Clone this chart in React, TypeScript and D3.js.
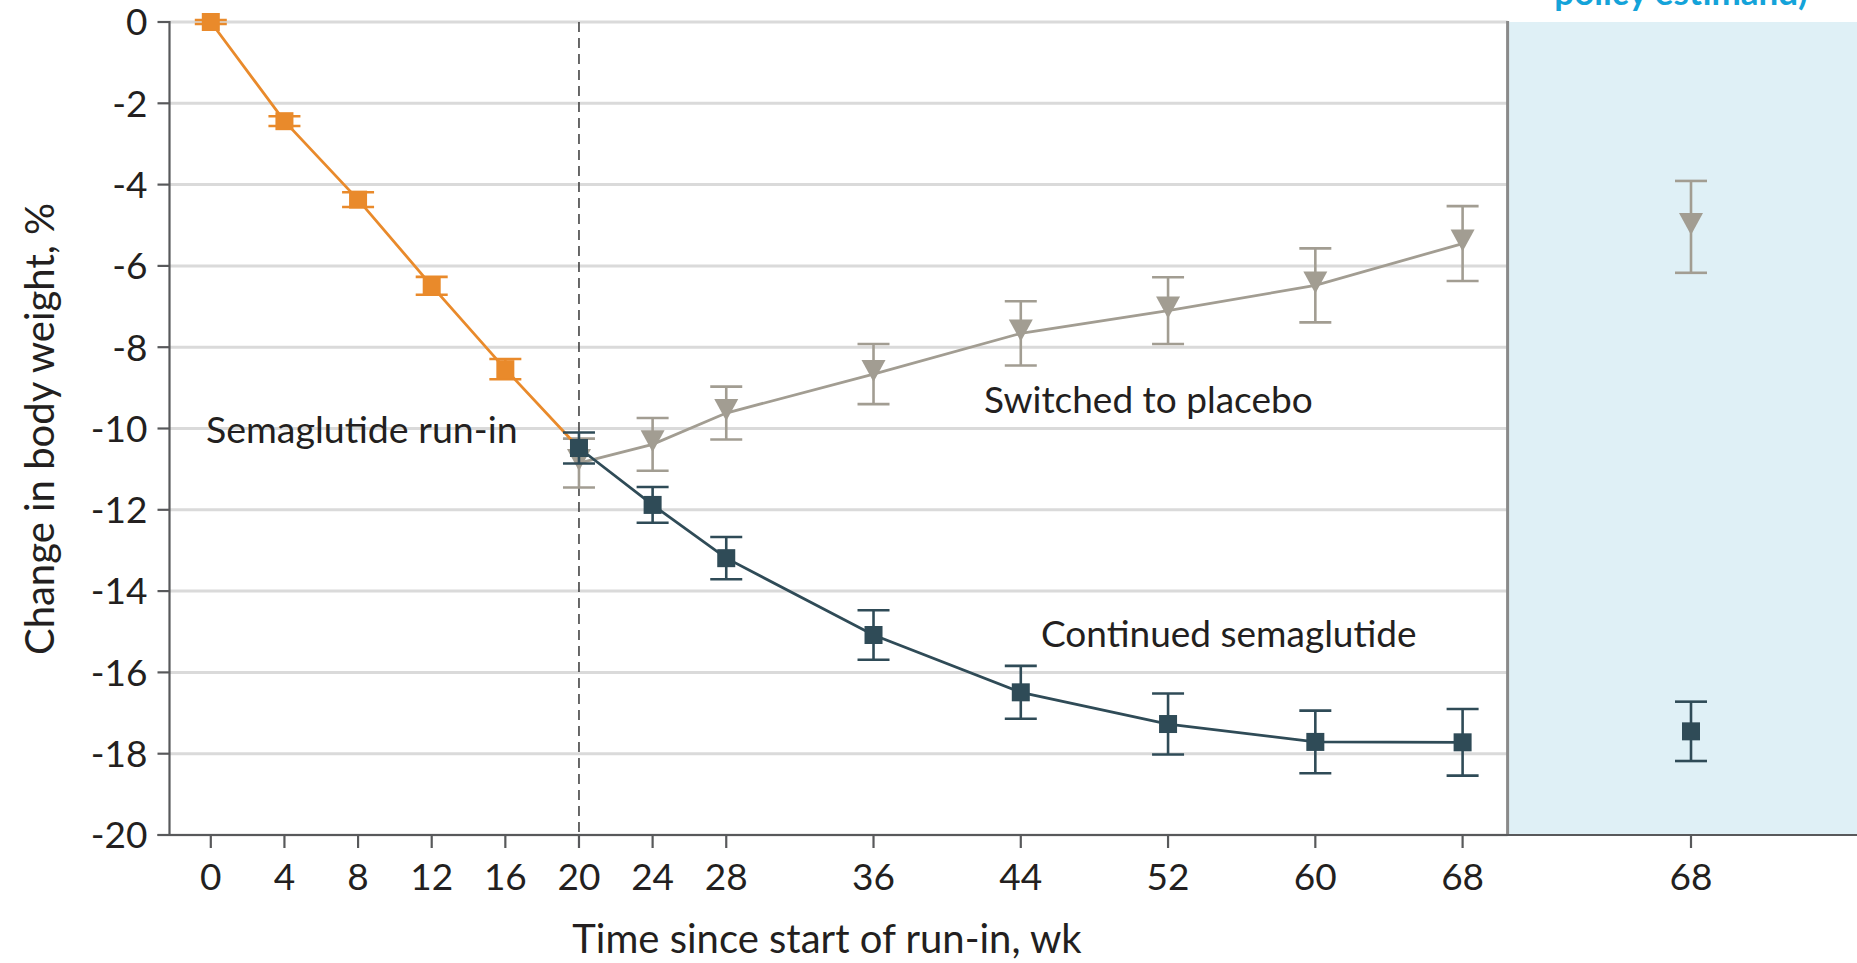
import React from "react";
import * as d3 from "d3";

// weeks since start of run-in
const runInWeeks = [0, 4, 8, 12, 16, 20];
const runInMean = [0, -2.44, -4.37, -6.49, -8.54, -10.48];
const runInErr = [0.05, 0.12, 0.18, 0.22, 0.25, 0.3];

const randWeeks = [20, 24, 28, 36, 44, 52, 60, 68];
const continuedMean = [-10.48, -11.88, -13.19, -15.08, -16.49, -17.27, -17.71, -17.72];
const continuedErr = [0.38, 0.44, 0.52, 0.61, 0.65, 0.75, 0.77, 0.82];
const placeboMean = [-10.85, -10.39, -9.62, -8.66, -7.66, -7.1, -6.48, -5.45];
const placeboErr = [0.6, 0.65, 0.65, 0.74, 0.79, 0.82, 0.91, 0.92];

// treatment policy panel at week 68
const panelWeeks = ["68"];
const panelContinuedMean = [-17.45];
const panelContinuedErr = [0.73];
const panelPlaceboMean = [-5.04];
const panelPlaceboErr = [1.13];

const xTicks = [0, 4, 8, 12, 16, 20, 24, 28, 36, 44, 52, 60, 68];
const yTicks = d3.range(0, -21, -2);

const W = 1857;
const H = 963;
const FONT = "Lato, 'Open Sans', sans-serif";
const ORANGE = "#e98a2b";
const DARK = "#2f4b57";
const GRAY = "#a29d92";
const AXIS = "#58595b";
const TEXT = "#231f20";

const x = d3.scaleLinear().domain([0, 68]).range([210.8, 1462.6]);
const xPanel = d3.scalePoint().domain(panelWeeks).range([1508, 1874]).padding(0.5);
const y = d3.scaleLinear().domain([-20, 0]).range([835, 22]);

const plotLeft = 169.5;
const divider = 1507.6;
const capHalf = 16;

const ErrorBar = ({ cx, m, e, color }) => (
  <g stroke={color} strokeWidth={2.6}>
    <line x1={cx} x2={cx} y1={y(m + e)} y2={y(m - e)} />
    <line x1={cx - capHalf} x2={cx + capHalf} y1={y(m + e)} y2={y(m + e)} />
    <line x1={cx - capHalf} x2={cx + capHalf} y1={y(m - e)} y2={y(m - e)} />
  </g>
);

const Square = ({ cx, cy, color }) => (
  <rect x={cx - 9} y={cy - 9} width={18} height={18} fill={color} />
);

const Tri = ({ cx, cy, color }) => (
  <path d={`M${cx - 12},${cy - 14}L${cx + 12},${cy - 14}L${cx},${cy + 8}Z`} fill={color} />
);

export default function App() {
  const line = d3.line();
  const runInPts = runInWeeks.map((w, i) => [x(w), y(runInMean[i])]);
  const contPts = randWeeks.map((w, i) => [x(w), y(continuedMean[i])]);
  const placPts = randWeeks.map((w, i) => [x(w), y(placeboMean[i])]);

  return (
    <svg
      width={W}
      height={H}
      style={{ position: "absolute", left: 0, top: 0, display: "block", background: "#fff" }}
      fontFamily={FONT}
    >
      {/* right panel */}
      <rect x={divider} y={y(0)} width={W - divider} height={y(-20) - y(0)} fill="#dff0f6" />
      <text x={1681} y={5} textAnchor="middle" fontSize={35} fontWeight="bold" fill="#14a3d9">
        policy estimand)
      </text>

      {/* grid */}
      {yTicks.map((t) => (
        <line key={t} x1={plotLeft} x2={divider} y1={y(t)} y2={y(t)} stroke="#dadada" strokeWidth={3} />
      ))}
      <line x1={divider} x2={divider} y1={y(0) - 1} y2={y(-20)} stroke="#8a8a8a" strokeWidth={3} />

      {/* dashed randomization line */}
      <line x1={x(20)} x2={x(20)} y1={y(0)} y2={y(-20) + 13} stroke="#444" strokeWidth={1.6} strokeDasharray="10,6" />

      {/* y axis */}
      <line x1={plotLeft} x2={plotLeft} y1={y(0) - 1} y2={y(-20)} stroke={AXIS} strokeWidth={2.2} />
      {yTicks.map((t) => (
        <g key={t}>
          <line x1={plotLeft - 12} x2={plotLeft} y1={y(t)} y2={y(t)} stroke={AXIS} strokeWidth={2.2} />
          <text x={plotLeft - 22} y={y(t)} dy="0.36em" textAnchor="end" fontSize={37} fill={TEXT}>
            {t}
          </text>
        </g>
      ))}

      {/* x axis */}
      <line x1={plotLeft - 12} x2={W} y1={y(-20)} y2={y(-20)} stroke={AXIS} strokeWidth={2.2} />
      {xTicks.map((t) => (
        <g key={t}>
          <line x1={x(t)} x2={x(t)} y1={y(-20)} y2={y(-20) + 13} stroke={AXIS} strokeWidth={2.2} />
          <text x={x(t)} y={890} textAnchor="middle" fontSize={37} fill={TEXT}>
            {t}
          </text>
        </g>
      ))}
      {panelWeeks.map((t) => (
        <g key={"p" + t}>
          <line x1={xPanel(t)} x2={xPanel(t)} y1={y(-20)} y2={y(-20) + 13} stroke={AXIS} strokeWidth={2.2} />
          <text x={xPanel(t)} y={890} textAnchor="middle" fontSize={37} fill={TEXT}>
            {t}
          </text>
        </g>
      ))}

      <text x={827} y={953} textAnchor="middle" fontSize={40} fill={TEXT}>
        Time since start of run-in, wk
      </text>
      <text transform="translate(54,429) rotate(-90)" textAnchor="middle" fontSize={40} fill={TEXT}>
        Change in body weight, %
      </text>

      {/* placebo */}
      <path d={line(placPts)} fill="none" stroke={GRAY} strokeWidth={2.8} />
      {randWeeks.map((w, i) => (
        <ErrorBar key={"pe" + w} cx={x(w)} m={placeboMean[i]} e={placeboErr[i]} color={GRAY} />
      ))}
      {randWeeks.map((w, i) => (
        <Tri key={"pt" + w} cx={x(w)} cy={y(placeboMean[i])} color={GRAY} />
      ))}

      {/* run-in */}
      <path d={line(runInPts)} fill="none" stroke={ORANGE} strokeWidth={2.8} />
      {runInWeeks.slice(0, -1).map((w, i) => (
        <g key={"r" + w}>
          <ErrorBar cx={x(w)} m={runInMean[i]} e={runInErr[i]} color={ORANGE} />
          <Square cx={x(w)} cy={y(runInMean[i])} color={ORANGE} />
        </g>
      ))}

      {/* continued */}
      <path d={line(contPts)} fill="none" stroke={DARK} strokeWidth={2.8} />
      {randWeeks.map((w, i) => (
        <g key={"c" + w}>
          <ErrorBar cx={x(w)} m={continuedMean[i]} e={continuedErr[i]} color={DARK} />
          <Square cx={x(w)} cy={y(continuedMean[i])} color={DARK} />
        </g>
      ))}

      {/* panel points */}
      {panelWeeks.map((t, i) => (
        <g key={"pp" + t}>
          <ErrorBar cx={xPanel(t)} m={panelPlaceboMean[i]} e={panelPlaceboErr[i]} color={GRAY} />
          <Tri cx={xPanel(t)} cy={y(panelPlaceboMean[i])} color={GRAY} />
          <ErrorBar cx={xPanel(t)} m={panelContinuedMean[i]} e={panelContinuedErr[i]} color={DARK} />
          <Square cx={xPanel(t)} cy={y(panelContinuedMean[i])} color={DARK} />
        </g>
      ))}

      {/* series labels */}
      <text x={206} y={443} fontSize={37.5} fill={TEXT}>Semaglutide run-in</text>
      <text x={984} y={413} fontSize={37} fill={TEXT}>Switched to placebo</text>
      <text x={1041} y={647} fontSize={37} fill={TEXT}>Continued semaglutide</text>
    </svg>
  );
}
